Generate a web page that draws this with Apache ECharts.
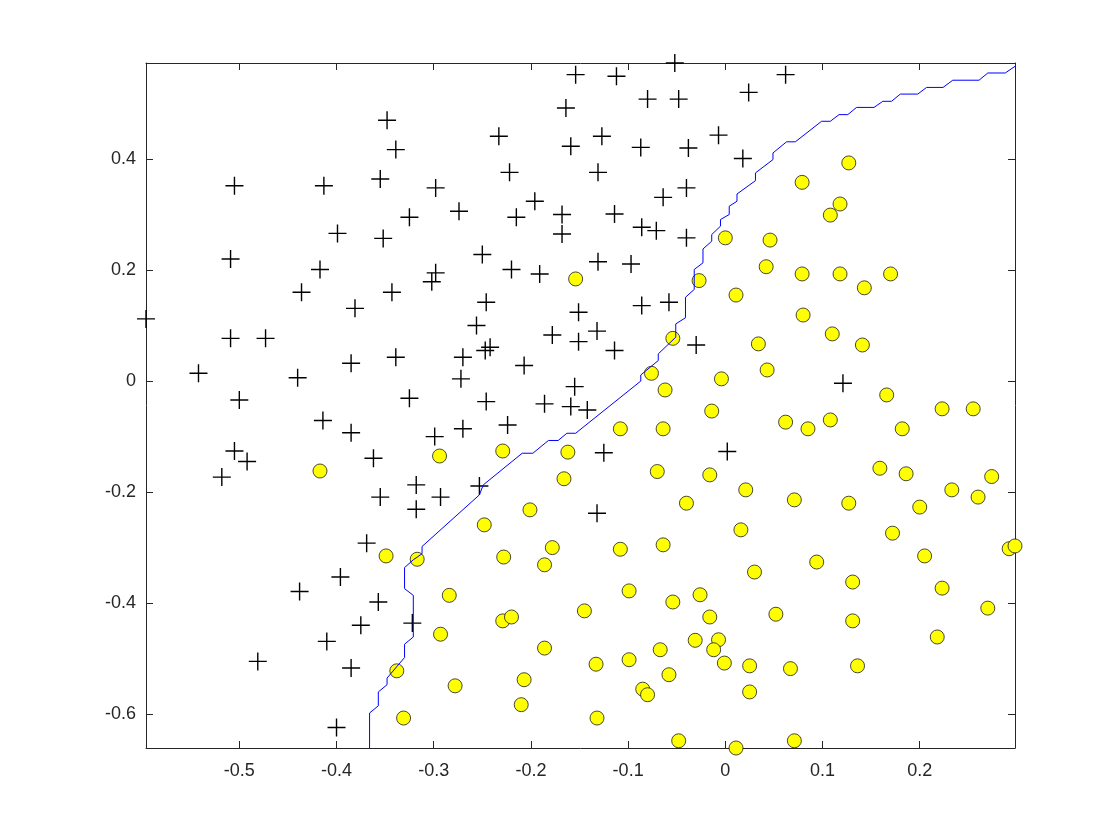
<!DOCTYPE html>
<html>
<head>
<meta charset="utf-8">
<script src="https://cdn.jsdelivr.net/npm/echarts@6/dist/echarts.min.js"></script>
<style>
  html, body { margin: 0; padding: 0; background: #ffffff; }
  #chart { width: 1120px; height: 840px; }
</style>
</head>
<body>
<div id="chart"></div>
<script>
// ---- data ----
const xRange = [-0.596, 0.298];
const yRange = [-0.661, 0.573];
const xTicks = [-0.5, -0.4, -0.3, -0.2, -0.1, 0, 0.1, 0.2];
const yTicks = [-0.6, -0.4, -0.2, 0, 0.2, 0.4];

// class y = 1 (plotted as "+")
const positives = [
  [-0.348,0.470],[-0.339,0.417],[-0.505,0.352],[-0.413,0.352],[-0.355,0.364],[-0.298,0.348],[-0.325,0.295],[-0.399,0.266],[-0.352,0.257],[-0.509,0.220],
  [-0.417,0.201],[-0.298,0.195],[-0.302,0.179],[-0.436,0.160],[-0.343,0.160],[-0.381,0.131],[-0.596,0.112],[-0.509,0.077],[-0.473,0.077],[-0.385,0.032],
  [-0.339,0.043],[-0.542,0.014],[-0.440,0.006],[-0.500,-0.034],[-0.325,-0.031],
  [-0.052,0.573],[-0.154,0.552],[-0.112,0.549],[-0.080,0.508],[-0.048,0.508],[-0.164,0.492],[-0.233,0.441],[-0.127,0.441],[-0.007,0.443],[-0.159,0.423],
  [-0.087,0.421],[-0.038,0.420],[-0.222,0.376],[-0.131,0.376],[-0.040,0.348],[-0.196,0.324],[-0.064,0.331],[-0.274,0.306],[-0.215,0.295],[-0.168,0.300],
  [-0.114,0.301],[-0.168,0.265],[-0.086,0.277],[-0.071,0.271],[-0.040,0.258],[-0.250,0.228],[-0.131,0.215],[-0.097,0.211],[-0.220,0.201],[-0.191,0.193],
  [-0.246,0.142],[-0.151,0.124],[-0.086,0.136],[-0.058,0.142],[-0.256,0.100],[-0.178,0.083],[-0.151,0.071],[-0.132,0.090],[-0.242,0.061],[-0.247,0.055],
  [-0.114,0.055],[-0.030,0.065],[-0.270,0.043],[-0.207,0.028],[-0.272,0.004],[-0.155,-0.010],[-0.246,-0.037],[-0.186,-0.041],[-0.159,-0.046],[-0.142,-0.052],
  [0.062,0.552],[0.024,0.520],[0.018,0.401],[0.121,-0.004],
  [-0.299,-0.100],[-0.270,-0.086],[-0.224,-0.079],[-0.125,-0.129],[0.002,-0.127],[-0.253,-0.189],[-0.293,-0.209],[-0.132,-0.238],
  [-0.414,-0.071],[-0.385,-0.093],[-0.505,-0.126],[-0.492,-0.145],[-0.362,-0.139],[-0.518,-0.173],[-0.318,-0.187],[-0.355,-0.209],[-0.318,-0.231],
  [-0.369,-0.292],[-0.396,-0.353],[-0.438,-0.379],[-0.357,-0.398],[-0.375,-0.440],[-0.322,-0.436],[-0.410,-0.469],[-0.481,-0.505],[-0.385,-0.517],[-0.400,-0.624]
];

// class y = 0 (plotted as yellow circles)
const negatives = [
  [-0.154,0.184],[-0.027,0.181],[0.000,0.258],[-0.054,0.077],[-0.076,0.014],[-0.062,-0.016],[-0.004,0.004],
  [0.127,0.393],[0.079,0.358],[0.118,0.319],[0.108,0.299],[0.046,0.254],[0.042,0.206],[0.079,0.193],[0.118,0.193],[0.170,0.193],
  [0.143,0.168],[0.011,0.155],[0.080,0.119],[0.110,0.085],[0.034,0.067],[0.141,0.065],[0.043,0.020],[0.166,-0.025],
  [0.223,-0.050],[0.255,-0.050],[0.062,-0.074],[0.085,-0.086],[0.108,-0.070],[0.182,-0.086],[0.159,-0.157],[0.186,-0.167],
  [0.274,-0.172],[0.021,-0.196],[0.071,-0.214],[0.127,-0.220],[0.233,-0.196],[0.260,-0.209],[0.200,-0.227],[0.016,-0.268],
  [0.172,-0.274],[0.292,-0.302],[0.298,-0.297],[0.094,-0.326],[0.205,-0.315],[0.030,-0.344],[0.131,-0.362],[0.223,-0.373],
  [0.052,-0.420],[0.131,-0.432],[0.270,-0.409],[0.218,-0.461],[-0.001,-0.508],[0.025,-0.513],[0.067,-0.518],[0.136,-0.513],
  [0.025,-0.560],[0.011,-0.661],[0.071,-0.648],
  [-0.014,-0.054],[-0.108,-0.086],[-0.064,-0.086],[-0.294,-0.135],[-0.229,-0.126],[-0.162,-0.128],[-0.070,-0.163],[-0.016,-0.169],
  [-0.166,-0.176],[-0.040,-0.220],[-0.201,-0.232],[-0.248,-0.259],[-0.178,-0.300],[-0.108,-0.303],[-0.064,-0.295],[-0.228,-0.317],
  [-0.186,-0.331],[-0.284,-0.386],[-0.099,-0.378],[-0.054,-0.398],[-0.026,-0.385],[-0.145,-0.414],[-0.016,-0.425],[-0.229,-0.432],
  [-0.220,-0.425],[-0.293,-0.456],[-0.031,-0.467],[-0.007,-0.466],[-0.012,-0.484],[-0.067,-0.484],[-0.186,-0.481],[-0.133,-0.510],
  [-0.099,-0.502],[-0.058,-0.529],[-0.278,-0.549],[-0.207,-0.538],[-0.085,-0.555],[-0.080,-0.565],[-0.210,-0.583],[-0.132,-0.607],
  [-0.048,-0.648],
  [-0.417,-0.162],[-0.349,-0.315],[-0.317,-0.321],[-0.338,-0.522],[-0.331,-0.607]
];

// decision boundary (contour)
const boundary = [
  [-0.366,-0.661],[-0.366,-0.598],[-0.357,-0.585],[-0.357,-0.560],[-0.348,-0.547],[-0.348,-0.535],[-0.330,-0.498],[-0.330,-0.474],
  [-0.321,-0.461],[-0.321,-0.386],[-0.330,-0.374],[-0.330,-0.336],[-0.321,-0.322],[-0.312,-0.311],[-0.312,-0.298],[-0.253,-0.205],
  [-0.249,-0.187],[-0.209,-0.130],[-0.198,-0.130],[-0.182,-0.107],[-0.172,-0.107],[-0.163,-0.094],[-0.154,-0.094],[-0.087,0.000],
  [-0.087,0.011],[-0.069,0.037],[-0.069,0.049],[-0.051,0.079],[-0.051,0.103],[-0.041,0.114],[-0.041,0.151],[-0.032,0.165],
  [-0.032,0.201],[-0.023,0.213],[-0.023,0.238],[-0.014,0.252],[-0.014,0.264],[-0.005,0.279],[-0.005,0.291],[0.004,0.300],
  [0.004,0.315],[0.012,0.324],[0.012,0.337],[0.031,0.361],[0.031,0.375],[0.049,0.399],[0.049,0.411],[0.063,0.431],
  [0.072,0.431],[0.099,0.468],[0.108,0.468],[0.117,0.480],[0.126,0.480],[0.135,0.493],[0.153,0.493],[0.162,0.504],
  [0.171,0.504],[0.180,0.517],[0.198,0.517],[0.207,0.529],[0.224,0.529],[0.234,0.542],[0.261,0.542],[0.270,0.555],
  [0.288,0.555],[0.298,0.567]
];

// ---- chart ----
const axisColor = '#262626';
const labelFont = { color: '#262626', fontSize: 18, fontFamily: 'Liberation Sans, Helvetica, Arial, sans-serif' };
const crossPath = 'path://M8.3,0H9.7V18H8.3Z M0,8.3H18V9.7H0Z';

function makeX(pos, showLabel) {
  return {
    type: 'value', position: pos, min: xRange[0], max: xRange[1],
    axisLine: { show: true, onZero: false, lineStyle: { color: axisColor, width: 1 } },
    axisTick: { show: true, inside: true, length: 7, customValues: xTicks, lineStyle: { color: axisColor, width: 1 } },
    axisLabel: Object.assign({ show: showLabel, customValues: xTicks, margin: 14,
      formatter: v => String(+v.toFixed(2)) }, labelFont),
    splitLine: { show: false }
  };
}
function makeY(pos, showLabel) {
  return {
    type: 'value', position: pos, min: yRange[0], max: yRange[1],
    axisLine: { show: true, onZero: false, lineStyle: { color: axisColor, width: 1 } },
    axisTick: { show: true, inside: true, length: 7, customValues: yTicks, lineStyle: { color: axisColor, width: 1 } },
    axisLabel: Object.assign({ show: showLabel, customValues: yTicks, margin: 10,
      formatter: v => String(+v.toFixed(2)) }, labelFont),
    splitLine: { show: false }
  };
}

const chart = echarts.init(document.getElementById('chart'), null, { renderer: 'canvas' });
chart.setOption({
  backgroundColor: '#ffffff',
  animation: false,
  grid: { left: 146, top: 63, width: 869, height: 685, containLabel: false },
  xAxis: [makeX('bottom', true), makeX('top', false)],
  yAxis: [makeY('left', true), makeY('right', false)],
  series: [
    {
      type: 'scatter', name: 'positive', xAxisIndex: 0, yAxisIndex: 0, clip: false,
      symbol: crossPath, symbolSize: 18,
      itemStyle: { color: '#000000', opacity: 1 },
      data: positives, z: 2
    },
    {
      type: 'scatter', name: 'negative', xAxisIndex: 0, yAxisIndex: 0, clip: false,
      symbol: 'circle', symbolSize: 14,
      itemStyle: { color: '#ffff00', borderColor: '#1a1a1a', borderWidth: 0.8, opacity: 1 },
      data: negatives, z: 3
    },
    {
      type: 'line', name: 'boundary', xAxisIndex: 0, yAxisIndex: 0, clip: false,
      showSymbol: false, symbol: 'none',
      lineStyle: { color: '#0000ff', width: 1 },
      data: boundary, z: 4
    }
  ]
});
</script>
</body>
</html>
